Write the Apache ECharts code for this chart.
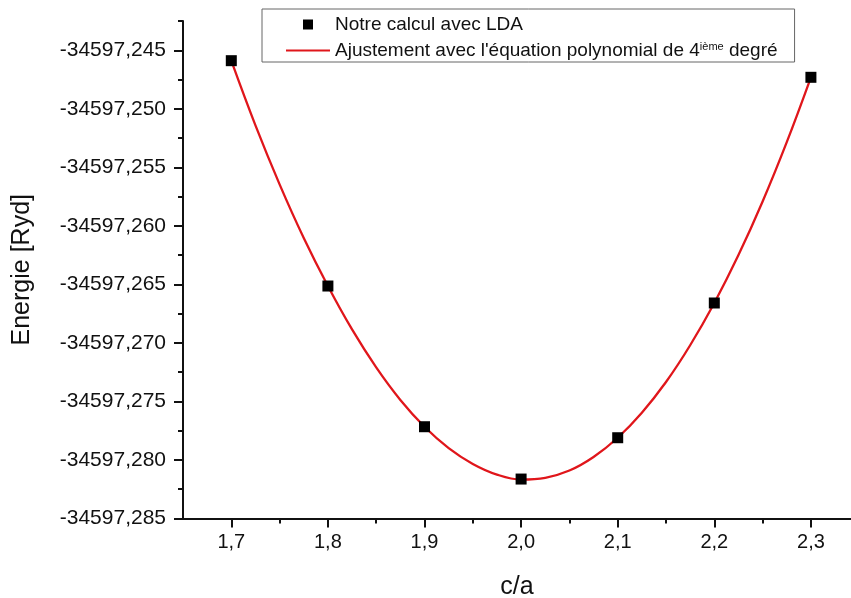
<!DOCTYPE html>
<html>
<head>
<meta charset="utf-8">
<script src="https://cdn.jsdelivr.net/npm/echarts@6/dist/echarts.min.js"></script>
<style>
    html, body { margin: 0; padding: 0; background: #fff; }
    #main { width: 851px; height: 598px; }
</style>
</head>
<body>
<div id="main"></div>
<script>
// points calcules (LDA)
var caPoints = [1.7, 1.8, 1.9, 2.0, 2.1, 2.2, 2.3];
var energyPoints = [-34597.24589, -34597.26514, -34597.27716, -34597.28163, -34597.27810, -34597.26659, -34597.24731];

// courbe d'ajustement
var caFit = [1.7, 1.725, 1.75, 1.775, 1.8, 1.825, 1.85, 1.875, 1.9, 1.925, 1.95, 1.975, 2.0,
    2.025, 2.05, 2.075, 2.1, 2.125, 2.15, 2.175, 2.2, 2.225, 2.25, 2.275, 2.3];
var energyFit = [-34597.24589, -34597.25142, -34597.25646, -34597.26104, -34597.26514, -34597.26885,
    -34597.27209, -34597.27487, -34597.27716, -34597.27899, -34597.28034, -34597.28125, -34597.28167,
    -34597.28152, -34597.28090, -34597.27974, -34597.27810, -34597.27596, -34597.27334, -34597.27020,
    -34597.26659, -34597.26250, -34597.25792, -34597.25285, -34597.24731];

// graduations
var xMajorTicks = [1.7, 1.8, 1.9, 2.0, 2.1, 2.2, 2.3];
var xMinorTicks = [1.75, 1.85, 1.95, 2.05, 2.15, 2.25];
var yMajorTicks = [-34597.285, -34597.280, -34597.275, -34597.270, -34597.265, -34597.260, -34597.255, -34597.250, -34597.245];
var yMinorTicks = [-34597.2825, -34597.2775, -34597.2725, -34597.2675, -34597.2625, -34597.2575, -34597.2525, -34597.2475, -34597.2425];

var nameLDA = 'Notre calcul avec LDA';
var nameFit = "Ajustement avec l'équation polynomial de 4ième degré";

var font = 'Arial, "Liberation Sans", sans-serif';

function pairs(xs, ys) {
    var out = [];
    for (var i = 0; i < xs.length; i++) {
        out.push([xs[i], ys[i]]);
    }
    return out;
}

function commaLabel(digits) {
    return function (v) {
        return v.toFixed(digits).replace('.', ',');
    };
}

var chart = echarts.init(document.getElementById('main'));

var axisLineStyle = { color: '#111', width: 2 };

var option = {
    animation: false,
    backgroundColor: '#fff',
    // pas de recadrage auto de la grille (v6)
    grid: { left: 183, top: 21, right: 0, bottom: 79.5, outerBoundsMode: 'none' },
    legend: {
        orient: 'vertical',
        left: 262,
        top: 9,
        padding: [6, 17, 2, 24],
        itemGap: 7,
        itemWidth: 44,
        itemHeight: 14,
        borderColor: '#666',
        borderWidth: 1,
        align: 'left',
        textStyle: {
            fontFamily: font,
            fontSize: 19,
            color: '#111',
            rich: {
                sup: { fontFamily: font, fontSize: 11, color: '#111', verticalAlign: 'top' }
            }
        },
        formatter: function (name) {
            if (name === nameFit) {
                return "Ajustement avec l'équation polynomial de 4{sup|ième} degré";
            }
            return name;
        },
        data: [
            // les M0,0M44,14 fixent la boite de l'icone
            { name: nameLDA, icon: 'path://M0,0M44,14M17,2h10v10h-10z' },
            { name: nameFit, icon: 'path://M0,0M44,14M0,6h44v2h-44z' }
        ]
    },
    xAxis: [{
        type: 'value',
        min: 1.65,
        max: 2.3415,
        name: 'c/a',
        nameLocation: 'middle',
        nameGap: 56,
        nameTextStyle: { fontFamily: font, fontSize: 25, color: '#111' },
        splitLine: { show: false },
        axisLine: { onZero: false, lineStyle: axisLineStyle },
        axisTick: { length: 9, lineStyle: axisLineStyle, customValues: xMajorTicks },
        axisLabel: {
            customValues: xMajorTicks,
            margin: 14,
            fontFamily: font, fontSize: 20, color: '#111',
            formatter: commaLabel(1)
        }
    }, {
        // petites graduations
        type: 'value',
        position: 'bottom',
        min: 1.65,
        max: 2.3415,
        splitLine: { show: false },
        axisLine: { show: false },
        axisTick: { length: 5, lineStyle: axisLineStyle, customValues: xMinorTicks },
        axisLabel: { show: false }
    }],
    yAxis: [{
        type: 'value',
        min: -34597.285,
        max: -34597.2425,
        name: 'Energie [Ryd]',
        nameLocation: 'middle',
        nameGap: 148,
        nameTextStyle: { fontFamily: font, fontSize: 25, color: '#111' },
        splitLine: { show: false },
        axisLine: { onZero: false, lineStyle: axisLineStyle },
        axisTick: { length: 9, lineStyle: axisLineStyle, customValues: yMajorTicks },
        axisLabel: {
            customValues: yMajorTicks,
            margin: 17,
            fontFamily: font, fontSize: 21, color: '#111',
            formatter: commaLabel(3)
        }
    }, {
        type: 'value',
        position: 'left',
        min: -34597.285,
        max: -34597.2425,
        splitLine: { show: false },
        axisLine: { show: false },
        axisTick: { length: 5, lineStyle: axisLineStyle, customValues: yMinorTicks },
        axisLabel: { show: false }
    }],
    series: [{
        name: nameFit,
        type: 'line',
        data: pairs(caFit, energyFit),
        smooth: 0.4,
        symbol: 'none',
        lineStyle: { color: '#e0161b', width: 2.3 },
        itemStyle: { color: '#e0161b' },
        z: 2
    }, {
        name: nameLDA,
        type: 'scatter',
        data: pairs(caPoints, energyPoints),
        symbol: 'rect',
        symbolSize: 11,
        itemStyle: { color: '#000', opacity: 1 },
        z: 3
    }]
};

chart.setOption(option);
</script>
</body>
</html>
